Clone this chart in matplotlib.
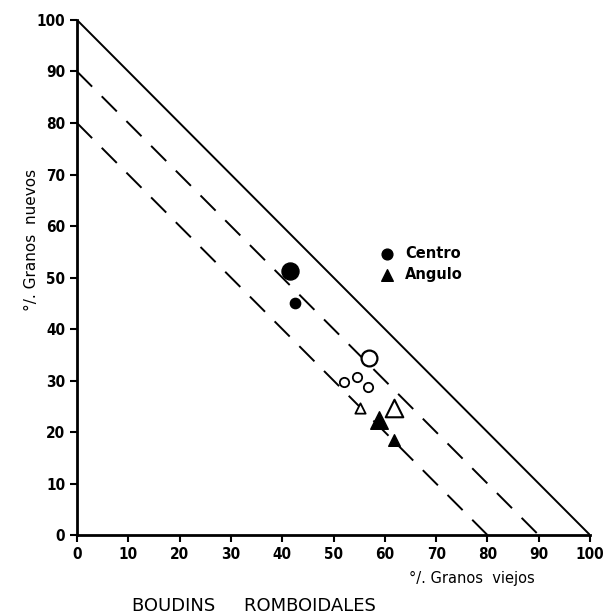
import numpy as np
import matplotlib
matplotlib.use("Agg")
import matplotlib.pyplot as plt

# % granos viejos (x) / % granos nuevos (y)
centro_x_grande = [41.5]
centro_y_grande = [51.2]
centro_x = [42.5]
centro_y = [45.0]
centro_abierto_x_grande = [57.0]
centro_abierto_y_grande = [34.3]
centro_abierto_x = [52.0, 54.5, 56.8]
centro_abierto_y = [29.7, 30.7, 28.7]

angulo_x_grande = [58.9]
angulo_y_grande = [22.3]
angulo_x = [61.8]
angulo_y = [18.4]
angulo_abierto_x_grande = [61.8]
angulo_abierto_y_grande = [24.7]
angulo_abierto_x = [55.2]
angulo_abierto_y = [24.7]

# rectas x + y = constante
sumas = [100, 90, 80]
estilos = ["-", (0, (11, 7)), (0, (11, 7))]

ticks = list(range(0, 101, 10))

fig = plt.figure(figsize=(6.05, 6.15), dpi=100)
ax = fig.add_axes([0.1273, 0.130, 0.848, 0.8375])

for s, ls in zip(sumas, estilos):
    xs = np.array([0, s])
    ax.plot(xs, s - xs, color="black", lw=1.4, linestyle=ls)

ax.scatter(centro_x_grande, centro_y_grande, s=150, color="black", zorder=3)
ax.scatter(centro_x, centro_y, s=55, color="black", zorder=3)
ax.scatter(centro_abierto_x_grande, centro_abierto_y_grande, s=130,
           facecolor="white", edgecolor="black", lw=1.6, zorder=3)
ax.scatter(centro_abierto_x, centro_abierto_y, s=45,
           facecolor="white", edgecolor="black", lw=1.3, zorder=3)
ax.scatter(angulo_x_grande, angulo_y_grande, s=160, marker="^", color="black", zorder=3)
ax.scatter(angulo_x, angulo_y, s=70, marker="^", color="black", zorder=3)
ax.scatter(angulo_abierto_x_grande, angulo_abierto_y_grande, s=160, marker="^",
           facecolor="white", edgecolor="black", lw=1.5, zorder=3)
ax.scatter(angulo_abierto_x, angulo_abierto_y, s=55, marker="^",
           facecolor="white", edgecolor="black", lw=1.3, zorder=3)

# leyenda dibujada a mano
ax.scatter([60.5], [54.6], s=60, color="black")
ax.scatter([60.5], [50.5], s=70, marker="^", color="black")
ax.text(64, 54.6, "Centro", va="center", fontsize=10.5, fontweight="bold")
ax.text(64, 50.5, "Angulo", va="center", fontsize=10.5, fontweight="bold")

ax.set_xlim(0, 100)
ax.set_ylim(0, 100)
ax.set_xticks(ticks)
ax.set_yticks(ticks)
ax.tick_params(labelsize=11, width=1.5, length=5, direction="out")
for lab in ax.get_xticklabels() + ax.get_yticklabels():
    lab.set_fontweight("bold")
    lab.set_fontstretch("condensed")
for side in ["top", "right"]:
    ax.spines[side].set_visible(False)
for side in ["left", "bottom"]:
    ax.spines[side].set_linewidth(2)

fig.text(0.052, 0.61, "°/. Granos  nuevos", rotation=90, ha="center", va="center",
         fontsize=11)
fig.text(0.78, 0.06, "°/. Granos  viejos", ha="center", va="center", fontsize=10.5)
fig.text(0.42, 0.015, "BOUDINS     ROMBOIDALES", ha="center", va="center",
         fontsize=13)

fig.savefig("out.png", dpi=100)
